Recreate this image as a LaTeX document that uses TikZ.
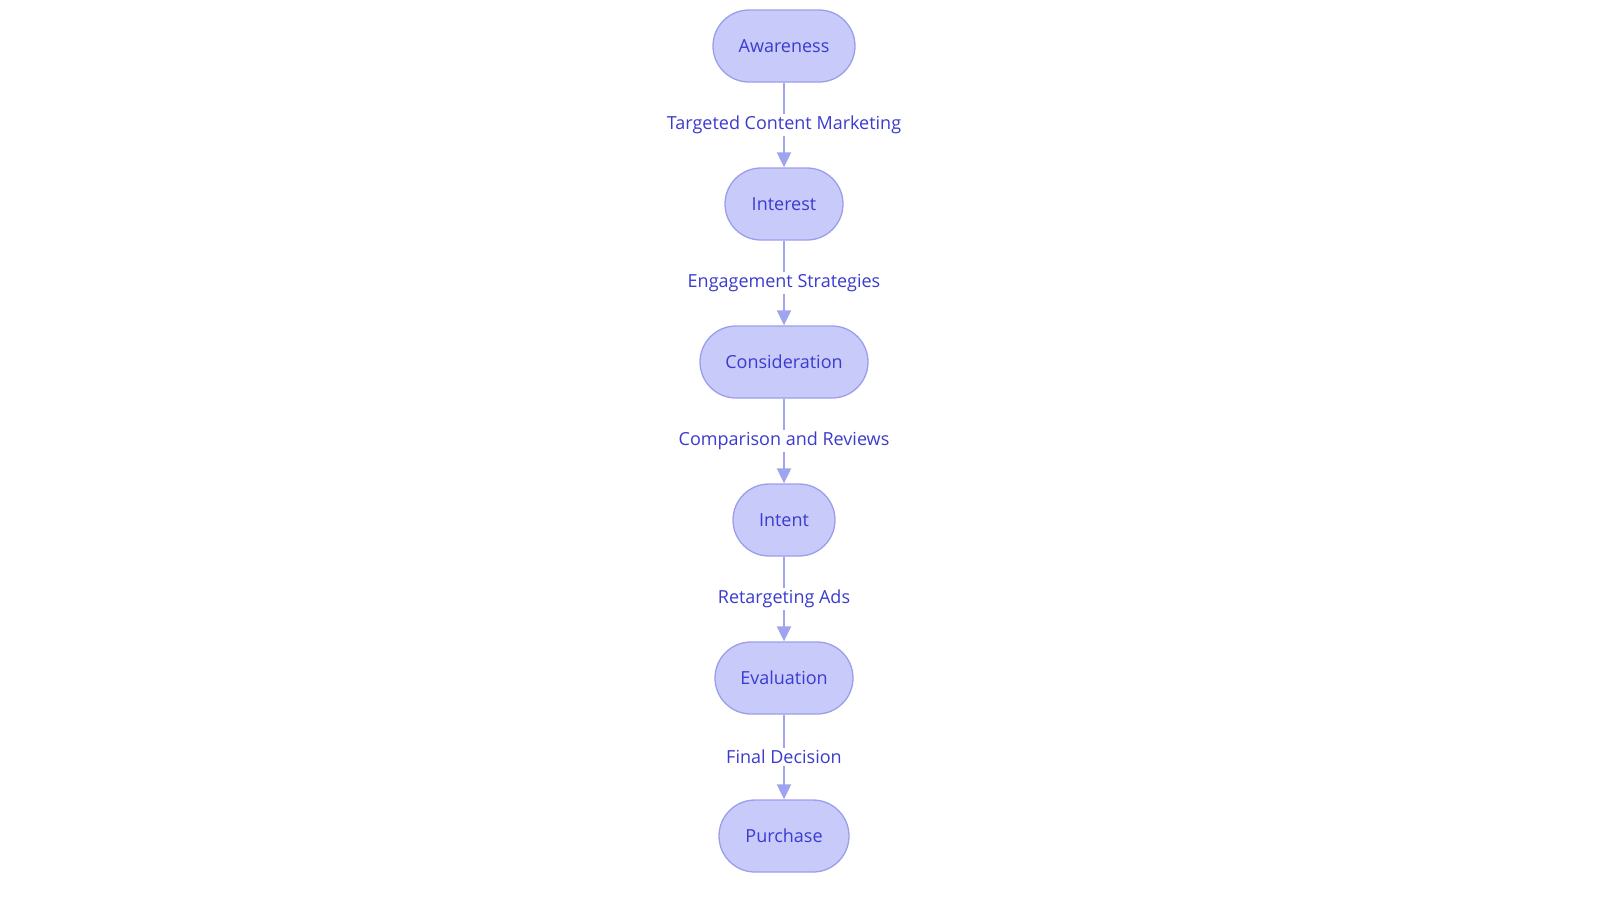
\documentclass[tikz,border=0pt]{standalone}
\usepackage{fontspec}
\setmainfont{Open Sans}
\usetikzlibrary{arrows.meta}
\definecolor{nodefill}{HTML}{C8CAFA}
\definecolor{nodeline}{HTML}{9C9EEC}
\definecolor{txt}{HTML}{3B3BCF}
\definecolor{edge}{HTML}{A0A3EE}
\tikzset{
  stage/.style={draw=nodeline, fill=nodefill, line width=1.3pt, rounded corners=36pt,
    minimum height=72pt, inner xsep=0pt, text=txt, font=\fontsize{18}{20}\selectfont},
  flow/.style={draw=edge, line width=2pt, -{Triangle[length=15pt,width=14pt]}},
  elabel/.style={fill=white, text=txt, font=\fontsize{18}{20}\selectfont, inner sep=2pt}
}
\begin{document}
\begin{tikzpicture}[x=1pt,y=-1pt]
\useasboundingbox (0,0) rectangle (1600,903);
\node[stage, minimum width=142pt] (aw) at (784,46) {Awareness};
\node[stage, minimum width=118pt] (in) at (784,204) {Interest};
\node[stage, minimum width=168pt] (co) at (784,362) {Consideration};
\node[stage, minimum width=102pt] (it) at (784,520) {Intent};
\node[stage, minimum width=138pt] (ev) at (784,678) {Evaluation};
\node[stage, minimum width=130pt] (pu) at (784,836) {Purchase};
\draw[flow] (aw) -- node[elabel] {Targeted Content Marketing} (in);
\draw[flow] (in) -- node[elabel] {Engagement Strategies} (co);
\draw[flow] (co) -- node[elabel] {Comparison and Reviews} (it);
\draw[flow] (it) -- node[elabel] {Retargeting Ads} (ev);
\draw[flow] (ev) -- node[elabel] {Final Decision} (pu);
\end{tikzpicture}
\end{document}
